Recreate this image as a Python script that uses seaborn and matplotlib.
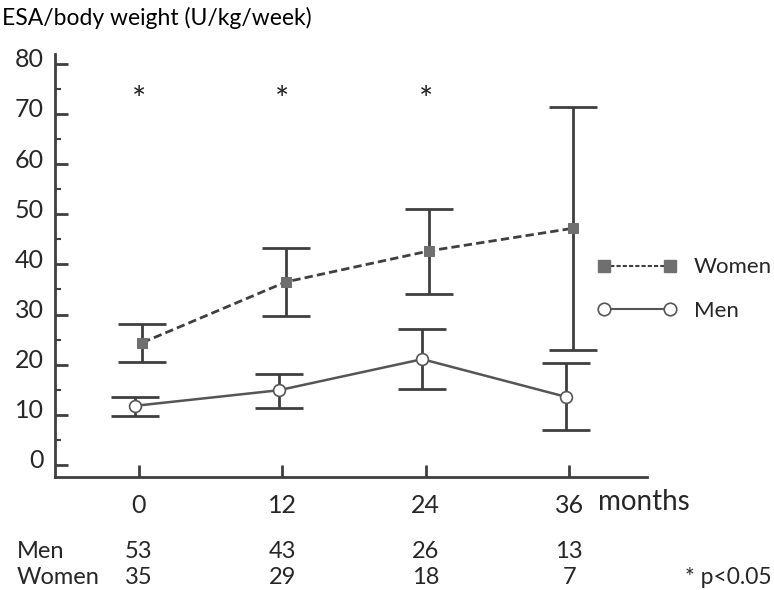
import numpy as np
import pandas as pd
import matplotlib
matplotlib.use("Agg")
import matplotlib.pyplot as plt
import matplotlib.transforms as mtransforms
from matplotlib.lines import Line2D
import seaborn as sns

# data
months = [0, 12, 24, 36]
women_mean = [24.4, 36.5, 42.7, 47.2]
women_hi = [28.1, 43.2, 51.1, 71.4]
women_lo = [20.5, 29.7, 34.1, 22.9]
men_mean = [11.8, 14.9, 21.1, 13.6]
men_hi = [13.6, 18.1, 27.1, 20.3]
men_lo = [9.8, 11.4, 15.1, 7.0]
n_men = [53, 43, 26, 13]
n_women = [35, 29, 18, 7]
signif_months = [0, 12, 24]

sns.set_style("ticks")
plt.rcParams['font.family'] = ['Lato', 'DejaVu Sans']

DARK = "#3f3f3f"
GREY = "#6f6f6f"

df = pd.DataFrame({
    "month": months * 2,
    "esa": women_mean + men_mean,
    "lo": women_lo + men_lo,
    "hi": women_hi + men_hi,
    "sex": ["Women"] * 4 + ["Men"] * 4,
})
shift = {"Women": 0.3, "Men": -0.3}
df["xpos"] = df["month"] + df["sex"].map(shift)

fig = plt.figure(figsize=(7.74, 5.9), dpi=100)
ax = fig.add_axes([0.0711, 0.1915, 0.836 - 0.0711, 0.908 - 0.1915])

# error bars
for sex in ["Women", "Men"]:
    d = df[df.sex == sex]
    ax.errorbar(d.xpos, d.esa, yerr=[d.esa - d.lo, d.hi - d.esa], fmt="none",
                ecolor=DARK, elinewidth=2, capsize=17, capthick=2, zorder=2)

sns.lineplot(data=df[df.sex == "Women"], x="xpos", y="esa", ax=ax, color=DARK,
             linestyle=(0, (3, 1.5)), linewidth=2, marker="s", markersize=7,
             markerfacecolor=GREY, markeredgecolor=GREY, zorder=3, legend=False)
sns.lineplot(data=df[df.sex == "Men"], x="xpos", y="esa", ax=ax, color="#555555",
             linewidth=1.8, marker="o", markersize=8.5, markerfacecolor="white",
             markeredgecolor="#555555", markeredgewidth=1.2, zorder=3, legend=False)

ax.set_xlim(-7.0, 42.5)
ax.set_ylim(-2.4, 81.9)
ax.set_xticks(months)
ax.set_xticklabels([str(m) for m in months])
ax.set_yticks(np.arange(0, 81, 10))
ax.set_yticks(np.arange(5, 80, 10), minor=True)
ax.set_xlabel("")
ax.set_ylabel("")
sns.despine(ax=ax)
for s in ["left", "bottom"]:
    ax.spines[s].set_color(DARK)
    ax.spines[s].set_linewidth(2)
ax.tick_params(axis="y", which="major", direction="in", length=9, width=2,
               color=DARK, labelsize=18, pad=8)
ax.tick_params(axis="y", which="minor", direction="in", length=4.5, width=1.5, color=DARK)
ax.tick_params(axis="x", which="major", direction="in", length=9, width=2,
               color=DARK, labelsize=18, pad=12)
off = mtransforms.ScaledTranslation(0, 6 / 100, fig.dpi_scale_trans)
for lab in ax.get_yticklabels():
    lab.set_transform(lab.get_transform() + off)

for m in signif_months:
    ax.text(m, 72.5, "*", ha="center", va="center", fontsize=24, color="#222222")

fig.text(0.002, 1 - 18 / 590, "ESA/body weight (U/kg/week)", fontsize=16.5,
         ha="left", va="center", color="black")
fig.text(598 / 774, 1 - 502 / 590, "months", fontsize=20, ha="left", va="center")

bt = mtransforms.blended_transform_factory(ax.transData, fig.transFigure)
fig.text(17 / 774, 1 - 551 / 590, "Men", fontsize=17, ha="left", va="center")
fig.text(17 / 774, 1 - 578 / 590, "Women", fontsize=17, ha="left", va="center")
for m, a, b in zip(months, n_men, n_women):
    ax.text(m, 1 - 551 / 590, str(a), transform=bt, fontsize=17, ha="center", va="center")
    ax.text(m, 1 - 578 / 590, str(b), transform=bt, fontsize=17, ha="center", va="center")
fig.text(685 / 774, 1 - 578 / 590, "* p<0.05", fontsize=16.5, ha="left", va="center")

handles = [
    Line2D([], [], color=DARK, linestyle=(0, (2, 1)), linewidth=1.5, marker="s",
           markersize=9, markerfacecolor=GREY, markeredgecolor=GREY),
    Line2D([], [], color="#555555", linewidth=1.5, marker="o", markersize=9,
           markerfacecolor="white", markeredgecolor="#555555", markeredgewidth=1.2),
]
fig.legend(handles, ["Women", "Men"], loc="center left",
           bbox_to_anchor=(597 / 774, 1 - 289 / 590), frameon=False, fontsize=16,
           handlelength=3.6, handletextpad=0.75, labelspacing=1.05, numpoints=2,
           borderpad=0, borderaxespad=0)

fig.savefig("out.png", dpi=100)
